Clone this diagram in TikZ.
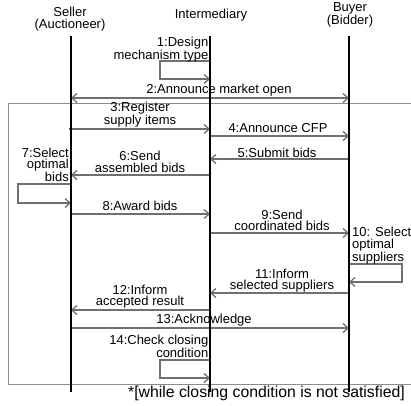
\documentclass[tikz,border=0pt]{standalone}
\usepackage{fontspec}
\setmainfont{Liberation Sans}
\usetikzlibrary{arrows.meta}
\definecolor{msgc}{RGB}{112,112,112}
\definecolor{framec}{RGB}{140,140,140}
\tikzset{
  life/.style={line width=1.8pt,black},
  msg/.style={line width=1.3pt,msgc,-{Straight Barb[length=5pt,width=9pt,line width=1.3pt]}},
  dmsg/.style={line width=1.3pt,msgc,{Straight Barb[length=5pt,width=9pt,line width=1.3pt]}-{Straight Barb[length=5pt,width=9pt,line width=1.3pt]}},
  lbl/.style={inner sep=0pt,align=center,font=\fontsize{13}{11.5}\selectfont},
  lblr/.style={lbl,align=right},
  lbll/.style={lbl,align=left},
  frm/.style={line width=0.9pt,framec}
}
\begin{document}
\begin{tikzpicture}[x=1pt,y=-1pt]
\useasboundingbox (0,0) rectangle (411,405);
% headers
\node[lbl] (Sh) at (70,19) {Seller\\(Auctioneer)};
\node[lbl] (Ih) at (211,15) {Intermediary};
\node[lbl] (Bh) at (350,14.5) {Buyer\\(Bidder)};
% lifelines
\coordinate (S) at (71,36);  \coordinate (Sb) at (71,392);
\coordinate (I) at (210,36); \coordinate (Ib) at (210,392);
\coordinate (B) at (349,36); \coordinate (Bb) at (349,392);
% frame
\coordinate (F1) at (420,103); \coordinate (F2) at (8,103);
\coordinate (F3) at (8,384);   \coordinate (F4) at (420,384);
\draw[frm] (F1) -- (F2) -- (F3) -- (F4);
% rows
\coordinate (r1a) at (0,61);  \coordinate (r1b) at (0,79);
\coordinate (L1a) at (160,61); \coordinate (L1b) at (160,79);
\coordinate (r2) at (0,98);
\coordinate (r3) at (0,129);
\coordinate (r4) at (0,136);
\coordinate (r5) at (0,159);
\coordinate (r6) at (0,175);
\coordinate (L7a) at (18,184); \coordinate (L7b) at (18,203);
\coordinate (r8) at (0,214);
\coordinate (r9) at (0,233);
\coordinate (L10a) at (402,264); \coordinate (L10b) at (402,282);
\coordinate (r11) at (0,293);
\coordinate (r12) at (0,310);
\coordinate (r13) at (0,328);
\coordinate (L14a) at (160,360); \coordinate (L14b) at (160,378);
% messages
\draw[msg] (I |- r1a) -- (L1a) -- (L1b) -- (I |- r1b);
\draw[dmsg] (S |- r2) -- (B |- r2);
\draw[msg] ([xshift=-2pt]S |- r3) -- (I |- r3);
\draw[msg] (I |- r4) -- (B |- r4);
\draw[msg] (B |- r5) -- (I |- r5);
\draw[msg] (I |- r6) -- (S |- r6);
\draw[msg] (S |- L7a) -- (L7a) -- (L7b) -- (S |- L7b);
\draw[msg] (S |- r8) -- (I |- r8);
\draw[msg] (I |- r9) -- (B |- r9);
\draw[msg] (B |- L10a) -- (L10a) -- (L10b) -- (B |- L10b);
\draw[msg] (B |- r11) -- (I |- r11);
\draw[msg] (I |- r12) -- (S |- r12);
\draw[msg] (S |- r13) -- (B |- r13);
\draw[msg] (I |- L14a) -- (L14a) -- (L14b) -- (I |- L14b);
% lifelines on top
\draw[life] (S) -- (Sb);
\draw[life] (I) -- (Ib);
\draw[life] (B) -- (Bb);
% labels
\node[lblr,anchor=east] (t1) at (208.5,49.5) {1:Design\\mechanism type};
\node[lbl] (t2) at (219,90.5) {2:Announce market open};
\node[lbl] (t3) at (140,114.5) {3:Register\\supply items};
\node[lbl] (t4) at (278,128) {4:Announce CFP};
\node[lbl] (t5) at (277,152.5) {5:Submit bids};
\node[lbl] (t6) at (140,162) {6:Send\\assembled bids};
\node[lblr,anchor=east] (t7) at (69,165) {7:Select\\optimal\\bids};
\node[lbl] (t8) at (140,206) {8:Award bids};
\node[lbl] (t9) at (282,220.5) {9:Send\\coordinated bids};
\node[lbll,anchor=west] (t10) at (352,245.5) {10: Select\\optimal\\suppliers};
\node[lbl] (t11) at (282,280.5) {11:Inform\\selected suppliers};
\node[lbl] (t12) at (140,296.5) {12:Inform\\accepted result};
\node[lbl] (t13) at (204,320) {13:Acknowledge};
\node[lblr,anchor=east] (t14) at (208.5,346.5) {14:Check closing\\condition};
\node[inner sep=0pt,anchor=east,font=\fontsize{15.8}{17}\selectfont] (foot) at (405,393) {*[while closing condition is not satisfied]};
\end{tikzpicture}
\end{document}
